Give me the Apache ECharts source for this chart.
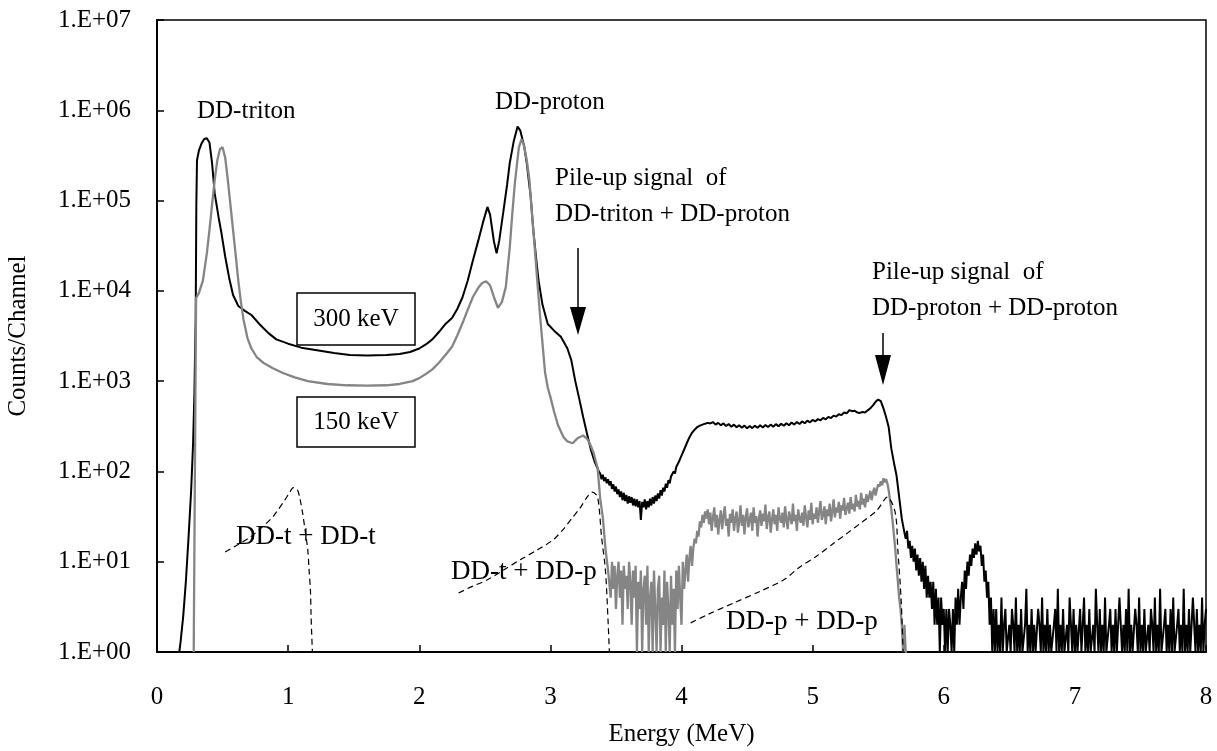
<!DOCTYPE html>
<html>
<head>
<meta charset="utf-8">
<script src="https://cdn.jsdelivr.net/npm/echarts@6/dist/echarts.min.js"></script>
<style>
html,body{margin:0;padding:0;background:#fff;}
#chart{width:1217px;height:751px;}
</style>
</head>
<body>
<div id="chart"></div>
<script>
// ---------- axis ticks ----------
const xTicks = [0,1,2,3,4,5,6,7,8];
const yTickExponents = [0,1,2,3,4,5,6,7];

// ---------- 300 keV spectrum (black) ----------
// smooth part [Energy MeV, counts/channel]
const black300Smooth = [
 [0.14,1],[0.17,1],[0.18,1.3],[0.20,2.5],[0.22,6],[0.24,18],[0.26,60],[0.275,200],[0.285,700],
 [0.295,5000],[0.300,9e4],[0.305,2.8e5],[0.32,3.6e5],[0.34,4.3e5],[0.36,4.8e5],[0.38,4.9e5],
 [0.40,4.4e5],[0.42,2.6e5],[0.44,1.2e5],[0.47,6.5e4],[0.49,4.5e4],[0.52,2.4e4],[0.55,1.4e4],
 [0.58,9000],[0.62,6800],[0.67,6000],[0.72,5400],[0.78,4300],[0.85,3400],[0.91,2900],[1.0,2600],
 [1.1,2350],[1.22,2200],[1.35,2050],[1.47,1950],[1.6,1920],[1.75,1950],[1.85,2000],[1.93,2100],
 [2.0,2300],[2.05,2550],[2.10,2900],[2.15,3500],[2.20,4300],[2.25,5000],[2.29,6300],[2.33,8500],
 [2.37,1.3e4],[2.41,2.2e4],[2.45,3.6e4],[2.49,6e4],[2.52,8.5e4],[2.54,7e4],[2.57,3.5e4],[2.59,2.6e4],
 [2.61,3.6e4],[2.64,7.3e4],[2.67,1.5e5],[2.69,2.6e5],[2.72,4.5e5],[2.75,6.6e5],[2.77,6e5],[2.80,4e5],
 [2.82,2.6e5],[2.85,1.1e5],[2.87,4.7e4],[2.89,2.4e4],[2.91,1.3e4],[2.94,7000],[2.98,4300],[3.03,3600],
 [3.08,3100],[3.13,2300],[3.16,1700],[3.19,1000],[3.22,640],[3.25,400],[3.28,260],[3.31,172],
 [3.34,125],[3.37,100]
];
// noisy channel runs: start energy, channel step, counts
const black300ValleyStart = 3.38, black300ValleyStep = 0.01;
const black300Valley = [
 95,82,92,78,86,74,82,70,78,64, 72,60,68,56,63,52,60,48,58,47,
 55,44,53,45,52,42,50,41,49,40, 47,29,46,40,49,38,47,40,50,42,
 52,44,54,47,57,50,62,54,66,60, 73,66,80,74,88,84,100,95,112,108,
 128,125,150,148,175,178,205,210,238,245, 268,275,290,298,310,318,322,335,330,345,
 338,352,345
];
const black300PlateauStart = 4.22, black300PlateauStep = 0.02;
const black300Plateau = [
 340,352,330,345,325,340,318,335,312,330, 308,325,305,322,300,318,302,320,305,324,
 306,326,310,330,312,334,316,338,320,342, 325,348,330,352,335,358,342,365,350,372,
 358,380,368,392,378,402,390,415,405,430, 420,450,440,478,465,470,450,445,455,450,
 475,500,540,590,625,600,500,400,310,180, 125,90,52,30,21
];
const black300EdgeStart = 5.71, black300EdgeStep = 0.01;
const black300Edge = [
 18,22,14,17,11,15,10,14,8,12, 7,11,6,10,5,9,4,7,4,6,
 3,6,2,5,2,4,1,4,2,3, 1,3,1,3,2,1,3,1,4,2,
 5,2,4,6,3,8,5,10,7,12, 9,14,11,16,12,17,13,15,9,12,
 6,8,4,6,2,4,1,3
];
const black300TailStart = 6.39, black300TailStep = 0.01;
const black300Tail = [
 1,3,1,2,1,4,1,2,3,1, 1,2,1,3,2,1,4,1,2,1, 3,1,1,2,5,1,2,1,3,1, 2,1,1,3,2,1,4,1,2,1,
 3,1,2,1,1,2,3,1,5,1, 2,1,3,1,1,2,1,4,2,1, 3,1,2,1,1,3,1,2,4,1, 2,1,3,1,1,2,1,5,2,1,
 3,1,2,1,4,1,1,2,3,1, 2,1,3,1,1,4,2,1,2,1, 3,1,5,1,2,1,1,3,2,1, 4,1,2,1,3,1,1,2,1,3,
 2,1,4,1,2,1,5,1,1,2, 3,1,2,1,3,1,4,1,1,2, 3,1,2,1,5,1,2,1,3,1, 1,4,2,1,3,1,2,1,4,1,
 2,3
];

// ---------- 150 keV spectrum (gray) ----------
const gray150Smooth = [
 [0.28,1],[0.295,1],[0.298,8300],[0.32,9500],[0.35,1.3e4],[0.38,2.6e4],[0.40,4.7e4],[0.42,9e4],
 [0.44,1.7e5],[0.46,2.8e5],[0.48,3.7e5],[0.50,3.9e5],[0.52,3e5],[0.54,1.7e5],[0.56,9e4],[0.58,4.7e4],
 [0.60,2.5e4],[0.62,1.3e4],[0.64,7500],[0.66,4800],[0.69,3000],[0.72,2300],[0.76,1850],[0.81,1600],
 [0.88,1400],[0.96,1230],[1.05,1100],[1.15,1000],[1.3,930],[1.45,900],[1.6,890],[1.75,900],
 [1.85,930],[1.95,1000],[2.0,1080],[2.05,1200],[2.10,1350],[2.15,1600],[2.20,1950],[2.25,2400],
 [2.29,3200],[2.33,4400],[2.37,6200],[2.41,8600],[2.45,1.08e4],[2.48,1.22e4],[2.51,1.28e4],
 [2.54,1.15e4],[2.57,8500],[2.60,6500],[2.63,7500],[2.66,1.1e4],[2.69,3e4],[2.71,7.3e4],
 [2.73,1.6e5],[2.76,3.9e5],[2.78,4.8e5],[2.80,4e5],[2.82,2.8e5],[2.84,1.7e5],[2.86,7e4],
 [2.88,3.1e4],[2.90,1.3e4],[2.92,5600],[2.94,2600],[2.96,1230],[2.98,850],[3.00,670],[3.03,450],
 [3.06,320],[3.10,240],[3.13,215],[3.17,205],[3.21,235],[3.25,250],[3.28,230],[3.30,205],
 [3.33,160],[3.36,110],[3.38,50],[3.40,31],[3.42,14],[3.44,8]
];
const gray150ValleyStart = 3.45, gray150ValleyStep = 0.01;
const gray150Valley = [
 8,4,10,5,9,3,7,10,4,8, 2,9,5,7,3,10,6,2,8,4, 9,1,6,3,8,1,5,7,2,9,
 1,4,6,1,8,3,1,5,7,1, 4,2,8,1,6,3,1,7,2,5, 1,8,3,9,4,2,10,5,8,12,
 6,11,15,9,14,18
];
const gray150PlateauStart = 4.11, gray150PlateauStep = 0.01;
const gray150Plateau = [
 16,22,19,28,24,33,27,36,30,38, 26,35,22,31,40,24,33,20,29,37, 23,32,41,25,30,19,34,27,38,22,
 30,36,21,28,42,25,33,20,31,39, 24,29,35,22,40,27,32,19,30,37, 25,34,28,43,23,31,36,21,29,38,
 26,33,22,40,30,27,35,24,41,29, 23,36,31,26,44,28,33,22,38,30, 27,35,25,42,31,24,37,29,45,26,
 34,30,40,27,36,47,29,33,41,26, 38,32,44,28,36,49,31,40,35,46, 30,42,37,51,33,39,45,34,52,38,
 44,36,55,41,47,38,58,43,50,40, 56,46,52,61,48,58,66,54,63,72, 68,78,70,84,76,82,74,62,48,38,
 28,20,14,9,6,4,3,2,1,2,1,1
];

// ---------- simulated pile-up curves (dashed) ----------
const pileTT = [
 [0.52,12.8],[0.62,15.5],[0.71,18.7],[0.80,24],[0.88,31],[0.92,37],[0.97,47],[1.01,58],[1.04,66],
 [1.07,63],[1.09,50],[1.11,35],[1.13,22],[1.15,13.5],[1.16,8],[1.17,4.9],[1.175,2.5],[1.185,1]
];
const pileTP = [
 [2.30,4.5],[2.40,5.3],[2.52,6.3],[2.65,8.2],[2.77,10.5],[2.90,13.5],[3.02,17.4],[3.10,23],
 [3.17,31],[3.23,40],[3.28,52],[3.32,59],[3.36,52],[3.39,19],[3.42,8],[3.44,2.2],[3.45,1]
];
const pilePP = [
 [4.07,2.1],[4.20,2.6],[4.40,3.5],[4.60,4.7],[4.78,6.3],[4.90,8.7],[5.03,11.5],[5.16,16],
 [5.27,21],[5.37,27],[5.49,37],[5.57,52],[5.63,35],[5.65,13.5],[5.675,3.8],[5.69,1]
];

function run(start, step, vals){
  return vals.map((v,i)=>[+(start + i*step).toFixed(4), v]);
}
const blackData = black300Smooth
  .concat(run(black300ValleyStart, black300ValleyStep, black300Valley))
  .concat(run(black300PlateauStart, black300PlateauStep, black300Plateau))
  .concat(run(black300EdgeStart, black300EdgeStep, black300Edge))
  .concat(run(black300TailStart, black300TailStep, black300Tail));
const grayData = gray150Smooth
  .concat(run(gray150ValleyStart, gray150ValleyStep, gray150Valley))
  .concat(run(gray150PlateauStart, gray150PlateauStep, gray150Plateau));

const FONT = '"Liberation Serif","Times New Roman",serif';
const chart = echarts.init(document.getElementById('chart'), null, {renderer:'canvas'});

function txt(x, y, text, size){
  return {type:'text', x:x, y:y, z:100,
    style:{text:text, fill:'#000', font: size+'px '+FONT, textAlign:'left', textVerticalAlign:'middle', align:'left', verticalAlign:'middle'}};
}
function box(x, y, w, h, text){
  return [
    {type:'rect', z:90, shape:{x:x, y:y, width:w, height:h}, style:{fill:'#fff', stroke:'#000', lineWidth:1.5}},
    {type:'text', z:100, x:x+w/2, y:y+h/2, style:{text:text, fill:'#000', font:'25px '+FONT, textAlign:'center', textVerticalAlign:'middle', align:'center', verticalAlign:'middle'}}
  ];
}
function arrow(x, y1, y2, headLen){
  return [
    {type:'line', z:100, shape:{x1:x, y1:y1, x2:x, y2:y2-headLen+2}, style:{stroke:'#000', lineWidth:1.5}},
    {type:'polygon', z:100, shape:{points:[[x-8,y2-headLen],[x+8,y2-headLen],[x,y2]]}, style:{fill:'#000'}}
  ];
}

const option = {
  animation:false,
  backgroundColor:'#fff',
  grid:{left:157, right:11, top:20, bottom:99, containLabel:false, outerBoundsMode:'none',
        show:true, borderColor:'#000', borderWidth:1.5, backgroundColor:'transparent'},
  xAxis:{
    type:'value', min:xTicks[0], max:xTicks[xTicks.length-1], interval:1,
    name:'Energy (MeV)', nameLocation:'middle', nameGap:70,
    nameTextStyle:{fontFamily:FONT, fontSize:25, color:'#000'},
    axisLine:{show:true, lineStyle:{color:'#000', width:2}},
    axisTick:{show:true, inside:true, length:7, lineStyle:{color:'#000', width:1.5}},
    axisLabel:{fontFamily:FONT, fontSize:25, color:'#000', margin:33},
    splitLine:{show:false}
  },
  yAxis:{
    type:'log', logBase:10, min:Math.pow(10,yTickExponents[0]), max:Math.pow(10,yTickExponents[yTickExponents.length-1]),
    splitNumber:7,
    name:'Counts/Channel', nameLocation:'middle', nameGap:126, nameRotate:90,
    nameTextStyle:{fontFamily:FONT, fontSize:25, color:'#000'},
    axisLine:{show:true, lineStyle:{color:'#000', width:2}},
    axisTick:{show:true, inside:true, length:7, lineStyle:{color:'#000', width:1.5}},
    axisLabel:{fontFamily:FONT, fontSize:25, color:'#000', margin:26,
      formatter:function(v){ const e=Math.round(Math.log10(v)); return '1.E+'+(e<10?'0':'')+e; }},
    splitLine:{show:false}
  },
  series:[
    {name:'300 keV', type:'line', data:blackData, showSymbol:false, symbol:'none', z:3,
     lineStyle:{color:'#000', width:2}, itemStyle:{color:'#000'}},
    {name:'150 keV', type:'line', data:grayData, showSymbol:false, symbol:'none', z:4,
     lineStyle:{color:'#858585', width:2.3}, itemStyle:{color:'#858585'}},
    {name:'DD-t + DD-t', type:'line', data:pileTT, showSymbol:false, symbol:'none', smooth:0.3, z:5,
     lineStyle:{color:'#000', width:1.2, type:[6,4]}},
    {name:'DD-t + DD-p', type:'line', data:pileTP, showSymbol:false, symbol:'none', smooth:0.3, z:5,
     lineStyle:{color:'#000', width:1.2, type:[6,4]}},
    {name:'DD-p + DD-p', type:'line', data:pilePP, showSymbol:false, symbol:'none', smooth:0.3, z:5,
     lineStyle:{color:'#000', width:1.2, type:[6,4]}}
  ],
  graphic:[].concat(
    [txt(197,111,'DD-triton',25), txt(495,102,'DD-proton',25),
     txt(555,178,'Pile-up signal  of',25), txt(555,214,'DD-triton + DD-proton',25),
     txt(872,272,'Pile-up signal  of',25), txt(872,308,'DD-proton + DD-proton',25),
     txt(236,537,'DD-t + DD-t',27), txt(451,572,'DD-t + DD-p',27), txt(726,622,'DD-p + DD-p',27)],
    box(297,293,118,52,'300 keV'),
    box(297,397,118,50,'150 keV'),
    arrow(578,248,335,28),
    arrow(883,333,385,30)
  )
};
chart.setOption(option);
</script>
</body>
</html>
